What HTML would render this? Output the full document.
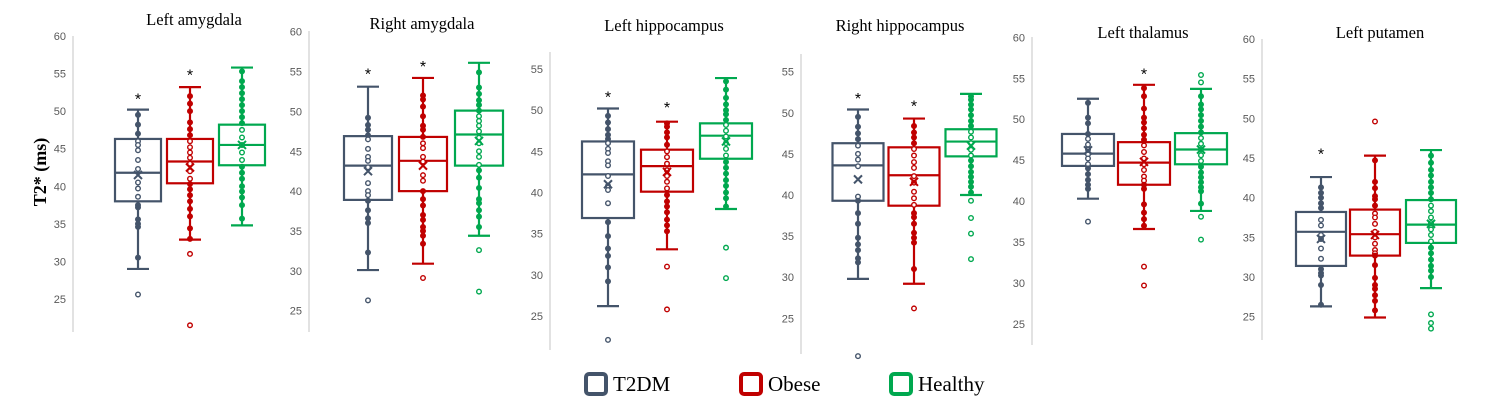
<!DOCTYPE html>
<html><head><meta charset="utf-8"><style>
html,body{margin:0;padding:0;background:#fff;}
svg{display:block;}
</style></head><body>
<svg id="chart" width="1500" height="418" viewBox="0 0 1500 418" xmlns="http://www.w3.org/2000/svg">
<text x="0" y="0" transform="translate(46,172) rotate(-90)" text-anchor="middle" font-family="Liberation Serif, serif" font-weight="bold" font-size="18" fill="#000">T2* (ms)</text>
<g id="panels"></g>
<g>
  <g>
    <rect x="586" y="374" width="20" height="20" rx="3" fill="none" stroke="#44546a" stroke-width="4"/>
    <text x="613" y="391" font-family="Liberation Serif, serif" font-size="21" fill="#000">T2DM</text>
  </g>
  <g>
    <rect x="741" y="374" width="20" height="20" rx="3" fill="none" stroke="#c00000" stroke-width="4"/>
    <text x="768" y="391" font-family="Liberation Serif, serif" font-size="21" fill="#000">Obese</text>
  </g>
  <g>
    <rect x="891" y="374" width="20" height="20" rx="3" fill="none" stroke="#00a84f" stroke-width="4"/>
    <text x="918" y="391" font-family="Liberation Serif, serif" font-size="21" fill="#000">Healthy</text>
  </g>
</g>
</svg>
<script>
// ---- data ----
const regions = ["Left amygdala","Right amygdala","Left hippocampus","Right hippocampus","Left thalamus","Left putamen"];
const groups = ["T2DM","Obese","Healthy"];
const colors = ["#44546a","#c00000","#00a84f"];
const yTicks = [[25,30,35,40,45,50,55,60],[25,30,35,40,45,50,55,60],[25,30,35,40,45,50,55],[25,30,35,40,45,50,55],[25,30,35,40,45,50,55,60],[25,30,35,40,45,50,55,60]];
// per region, per group: [whiskerLow, q1, median, q3, whiskerHigh]
const boxStats = [
 [[29,38,41.8,46.3,50.2],[32.9,40.4,43.3,46.3,53.2],[34.8,42.8,45.5,48.2,55.8]],
 [[30.1,38.9,43.2,46.9,53.1],[30.9,40,43.8,46.8,54.2],[34.4,43.2,47.1,50.1,56.1]],
 [[26.2,36.9,42.2,46.2,50.2],[33.1,40.1,43.2,45.2,48.6],[38,44.1,46.9,48.4,53.9]],
 [[29.8,39.3,43.6,46.3,50.4],[29.2,38.7,42.4,45.8,49.3],[40,44.7,46.5,48,52.3]],
 [[40.3,44.3,45.8,48.2,52.5],[36.6,42,44.7,47.2,54.2],[38.8,44.5,46.3,48.3,53.7]],
 [[26.3,31.4,35.7,38.2,42.6],[24.9,32.7,35.4,38.5,45.3],[28.6,34.3,36.6,39.7,46]]
];
const means = [[41.5,42.5,45.5],[42.5,43.2,46.3],[41,42.5,46.2],[41.9,41.6,46],[46.2,44.8,46.3],[34.8,35.3,36.7]];
const outliers = [
 [[25.6],[31,21.5],[]],
 [[26.3],[29.1],[32.6,27.4]],
 [[22.1],[31,25.8],[33.3,29.6]],
 [[20.4],[26.2],[39.3,37.2,35.3,32.2]],
 [[37.5],[32,29.7],[55.4,54.5,38.1,35.3]],
 [[],[49.6],[25.3,24.2,23.5]]
];
const stars = [[51.8,55,null],[54.9,55.8,null],[51.8,50.5,null],[51.9,51,null],[null,55.7,null],[45.7,null,null]];
const points = [
 [[49.5,48.2,47,46,45.5,44.8,43.5,42.3,40.5,39.7,38.6,37.5,37.2,35.6,35,34.6,30.5],
  [52,51,50,48.5,47.6,46.8,46,45.2,44.5,43.8,43,42,41,40.3,39.6,38.8,38,37,36,34.4,33],
  [55.3,54,53.2,52.4,51.6,50.8,50,49.2,48.4,47.5,46.5,45.5,44.5,43.5,42.6,41.8,41,40,39.3,38.5,37.5,35.7]],
 [[49.2,48.3,47.7,47,46.5,45.3,44.3,43.8,43,41,40,39.5,38.8,37.6,36.6,36,32.3],
  [52,51.5,50.6,49.4,48.2,47.7,46.8,46,45.4,44.3,43.7,42,41.3,40,39,38.2,37,36.4,35.5,35,34.4,33.4],
  [54.9,53,52.2,51.4,50.8,50.1,49.4,48.8,48.2,47.5,46.7,46,45,44.3,43.3,42.6,41.7,40.4,39,38.5,37.6,36.8,35.5]],
 [[49.3,48.5,47.7,47,46.5,46,45.3,44.8,43.8,43.3,42,40.8,40.3,38.7,36.4,34.7,33.2,32.3,30.9,29.2],
  [48.4,48,47.3,46.7,45.8,45,44.3,43.5,42.7,42,41.3,40.5,39.7,38.9,38.3,37.6,36.7,36,35.3],
  [53.5,52.5,51.5,50.7,50,49.5,48.8,48.2,47.5,46.8,46,45.3,44.5,43.7,43,42.3,41.5,40.8,40,39.3,38.3]],
 [[49.5,48.3,47.5,46.8,46,45,44.3,43.5,39.8,39.3,37.8,36.5,34.8,34,33.3,32.3,31.8],
  [48.4,47.6,47,46.3,45.6,44.8,44,43.3,42.3,41.5,40.4,39.6,38.8,37.8,37.3,36.5,35.4,34.8,34.2,31],
  [52,51.6,51,50.4,49.7,49,48.4,47.7,47,46.3,45.5,44.8,44.2,43.5,42.8,42.2,41.6,41,40.3]],
 [[52,50.2,49.5,48.2,47.6,46.9,46.3,45.7,45.2,44.5,44,43.3,42.6,42,41.5],
  [53.8,52.8,51.3,50.2,49.6,48.9,48.1,47.5,46.8,46,45.2,44.5,43.8,43,42.5,42,41.5,39.6,38.6,37.8,37],
  [52.8,51.8,51.2,50.5,49.8,49.1,48.4,47.7,47,46.3,45.6,44.9,44.2,43.5,42.9,42.3,41.7,41.2,39.7]],
 [[41.3,40.6,40,39.3,38.7,37.2,36.5,35.3,34.8,33.6,32.3,31,30.5,30.2,29,26.5],
  [44.7,42,41.2,40.2,39.8,39,38,37.5,36.7,35.7,35,34.2,33.4,33,32.7,31.5,29.9,29,28.5,27.7,27,25.8],
  [45.3,44.4,43.5,42.8,42,41.3,40.6,39.8,39,38.3,37.5,36.8,36,35.3,34.5,33.7,33,32.2,31.4,30.8,30]]
];
// ---- layout (pixels) ----
const axisX = [73,309,550,801,1032,1262];
const axisTop = [36,31,52,54,37,39];
const axisBottom = [332,332,350,354,345,340];
const yCal = [[60,36,25,299],[60,31.7,25,310.7],[55,69,25,316],[55,71.7,25,318.3],[60,37.3,25,324],[60,39,25,316.7]];
const centers = [[138,190,242],[368,423,479],[608,667,726],[858,914,971],[1088,1144,1201],[1321,1375,1431]];
const boxW = [46,48,52,51,52,50];
const titleX = [194,422,664,900,1143,1380];
const titleY = [25,29,31,31,38,38];

const NS="http://www.w3.org/2000/svg";
const root=document.getElementById('panels');
function mk(tag,attrs,parent){const e=document.createElementNS(NS,tag);for(const k in attrs)e.setAttribute(k,attrs[k]);parent.appendChild(e);return e;}

regions.forEach((reg,p)=>{
  const [v1,y1,v2,y2]=yCal[p];
  const y=v=>y1+(v1-v)*(y2-y1)/(v1-v2);
  const g=mk('g',{},root);
  
  
  const t=mk('text',{x:titleX[p],y:titleY[p],'text-anchor':'middle','font-family':'Liberation Serif, serif','font-size':'16.5',fill:'#000'},g);
  t.textContent=reg;
  
  
  const ax=mk('line',{x1:axisX[p],x2:axisX[p],y1:axisTop[p],y2:axisBottom[p],stroke:'#d9d9d9','stroke-width':1.5},g);
  
  
  yTicks[p].forEach(tv=>{
    const tl=mk('text',{x:axisX[p]-7,y:y(tv)+4,'text-anchor':'end','font-family':'Liberation Sans, sans-serif','font-size':'11',fill:'#595959'},g);
    tl.textContent=tv;
    
    
  });
  groups.forEach((gr,k)=>{
    const c=colors[k],cx=centers[p][k],w=boxW[p];
    const [lo,q1,md,q3,hi]=boxStats[p][k];
    const bg=mk('g',{},g);
    
    
    mk('line',{x1:cx,x2:cx,y1:y(hi),y2:y(lo),stroke:c,'stroke-width':2.2},bg);
    mk('line',{x1:cx-11,x2:cx+11,y1:y(hi),y2:y(hi),stroke:c,'stroke-width':2.2},bg);
    mk('line',{x1:cx-11,x2:cx+11,y1:y(lo),y2:y(lo),stroke:c,'stroke-width':2.2},bg);
    mk('rect',{x:cx-w/2,y:y(q3),width:w,height:y(q1)-y(q3),fill:'#fff',stroke:c,'stroke-width':2.2},bg);
    mk('line',{x1:cx-w/2,x2:cx+w/2,y1:y(md),y2:y(md),stroke:c,'stroke-width':2.2},bg);
    points[p][k].forEach(v=>{
      const inside=v>q1&&v<q3;
      const pt=mk('circle',{cx:cx,cy:y(v),r:2.3,fill:inside?'#fff':c,stroke:c,'stroke-width':1.4},bg);
      
      
    });
    outliers[p][k].forEach(v=>{
      const o=mk('circle',{cx:cx,cy:y(v),r:2.3,fill:'#fff',stroke:c,'stroke-width':1.4},bg);
      
      
    });
    const my=y(means[p][k]);
    const m=mk('path',{d:`M${cx-4},${my-4}L${cx+4},${my+4}M${cx+4},${my-4}L${cx-4},${my+4}`,stroke:c,'stroke-width':2},bg);
    
    
    if(stars[p][k]!==null){
      const s=mk('text',{x:cx,y:y(stars[p][k])+7,'text-anchor':'middle','font-family':'Liberation Sans, sans-serif','font-size':'16',fill:'#000'},g);
      s.textContent='*';
      
      
    }
  });
});
</script>
</body></html>
